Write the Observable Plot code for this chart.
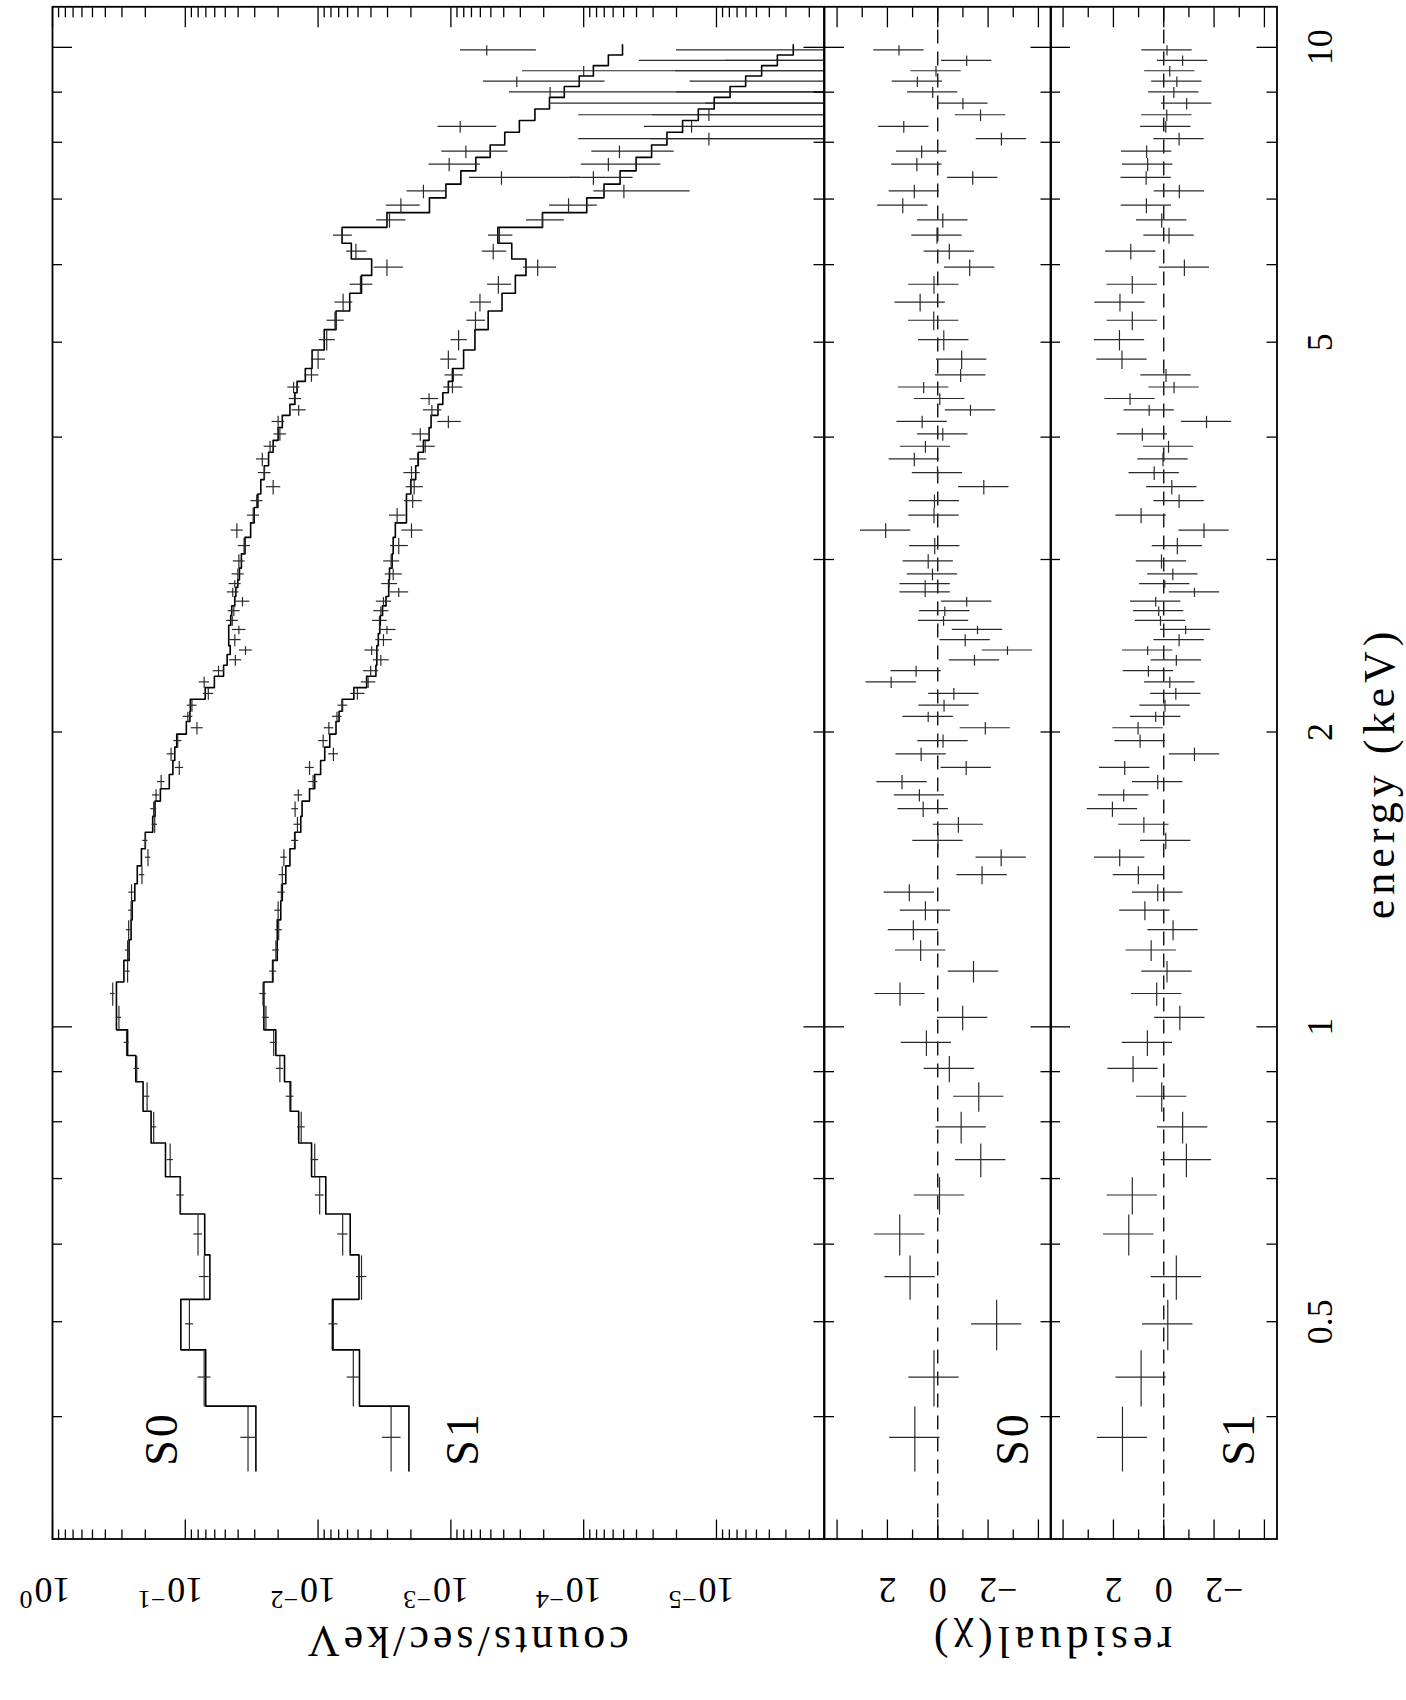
<!DOCTYPE html>
<html><head><meta charset="utf-8">
<script src="https://cdn.jsdelivr.net/npm/d3@7"></script>
<script src="https://cdn.jsdelivr.net/npm/@observablehq/plot@0.6"></script>
<style>
html,body{margin:0;padding:0;background:#fff;}
#page{position:relative;width:1406px;height:1700px;overflow:hidden;background:#fff;}
#rot{position:absolute;left:0;top:0;width:1700px;height:1406px;transform-origin:0 0;transform:translate(0px,1700px) rotate(-90deg);}
#rot > svg{position:absolute;left:0;overflow:visible;font-family:"Liberation Serif","DejaVu Serif",serif !important;}
#rot text, #rot tspan{font-family:"Liberation Serif","DejaVu Serif",serif !important;}
</style></head><body>
<div id="page"><div id="rot"></div></div>
<script>
// Energy bin edges (keV), shared by S0 and S1, listed from high to low energy
const edges = [10.06, 9.82, 9.58, 9.35, 9.12, 8.89, 8.65, 8.42, 8.19, 7.95, 7.72, 7.48, 7.25, 7.02, 6.78, 6.55, 6.31, 6.08, 5.85, 5.61, 5.38, 5.15, 4.91, 4.70, 4.56, 4.44, 4.32, 4.21, 4.09, 3.97, 3.86, 3.74, 3.62, 3.50, 3.39, 3.27, 3.16, 3.04, 2.94, 2.86, 2.81, 2.75, 2.69, 2.63, 2.57, 2.52, 2.45, 2.40, 2.34, 2.28, 2.22, 2.16, 2.10, 2.05, 1.99, 1.93, 1.87, 1.81, 1.75, 1.70, 1.64, 1.58, 1.52, 1.46, 1.40, 1.345, 1.286, 1.227, 1.169, 1.111, 1.052, 0.993, 0.935, 0.879, 0.820, 0.761, 0.703, 0.644, 0.585, 0.527, 0.468, 0.410, 0.352];

// S0 spectrum (counts/sec/keV)
const s0Data = [5.37e-4, -1.2e-4, 1.0e-4, 3.19e-4, 1.79e-4, -1.4e-5, -6.8e-5, 8.51e-4, -7.7e-5, 7.71e-4, 1.03e-3, 4.16e-4, 1.61e-3, 2.38e-3, 2.9e-3, 6.59e-3, 5.19e-3, 3.03e-3, 4.80e-3, 6.48e-3, 7.46e-3, 8.61e-3, 1.0e-2, 1.122e-2, 1.53e-2, 1.49e-2, 1.40e-2, 2.0e-2, 1.94e-2, 2.30e-2, 2.63e-2, 2.54e-2, 2.18e-2, 2.90e-2, 3.08e-2, 4.09e-2, 3.61e-2, 3.95e-2, 4.02e-2, 4.24e-2, 4.39e-2, 3.71e-2, 4.31e-2, 4.43e-2, 3.95e-2, 4.24e-2, 3.52e-2, 4.20e-2, 5.62e-2, 7.21e-2, 6.71e-2, 8.91e-2, 9.57e-2, 8.17e-2, 0.114, 0.128, 0.111, 0.152, 0.166, 0.173, 0.170, 0.200, 0.191, 0.212, 0.254, 0.256, 0.267, 0.272, 0.272, 0.352, 0.316, 0.277, 0.232, 0.194, 0.173, 0.130, 0.109, 0.0802, 0.0721, 0.0931, 0.0721, 0.0337];
const s0Err = [3.1e-4, 1.58e-4, 1.89e-4, 2.5e-4, 1.83e-4, 1.95e-4, 1.77e-4, 4.0e-4, 1.86e-4, 4.0e-4, 4.3e-4, 3.1e-4, 5.3e-4, 6.8e-4, 7.2e-4, 1.07e-3, 9e-4, 7.5e-4, 9.3e-4, 1.0e-3, 1.1e-3, 1.2e-3, 1.2e-3, 1.35e-3, 1.6e-3, 1.6e-3, 1.7e-3, 2.2e-3, 2.1e-3, 2.5e-3, 2.8e-3, 2.8e-3, 2.7e-3, 3.0e-3, 3.2e-3, 4.3e-3, 3.8e-3, 4.0e-3, 4.2e-3, 4.4e-3, 4.4e-3, 4.4e-3, 4.5e-3, 4.5e-3, 4.6e-3, 4.4e-3, 3.9e-3, 4.4e-3, 5.5e-3, 6.4e-3, 6.0e-3, 7.5e-3, 8e-3, 8.5e-3, 8e-3, 9e-3, 8e-3, 1.0e-2, 1.05e-2, 9e-3, 8e-3, 9e-3, 9e-3, 1.0e-2, 1.2e-2, 1.1e-2, 1.1e-2, 1.1e-2, 1.2e-2, 1.4e-2, 1.4e-2, 1.2e-2, 1.1e-2, 9e-3, 9e-3, 7e-3, 7e-3, 6e-3, 6e-3, 6.5e-3, 8e-3, 4.5e-3];
const s0Model = [5.1e-5, 6.52e-5, 8.45e-5, 1.08e-4, 1.40e-4, 1.81e-4, 2.33e-4, 3.05e-4, 3.93e-4, 5.06e-4, 6.49e-4, 8.41e-4, 1.09e-3, 1.45e-3, 3.03e-3, 6.59e-3, 5.62e-3, 3.95e-3, 4.71e-3, 5.78e-3, 7.33e-3, 8.99e-3, 1.11e-2, 1.248e-2, 1.44e-2, 1.50e-2, 1.63e-2, 1.86e-2, 2.0e-2, 2.18e-2, 2.36e-2, 2.54e-2, 2.70e-2, 2.84e-2, 3.03e-2, 3.22e-2, 3.55e-2, 3.78e-2, 3.91e-2, 4.02e-2, 4.16e-2, 4.24e-2, 4.47e-2, 4.55e-2, 4.71e-2, 4.71e-2, 4.59e-2, 4.84e-2, 5.15e-2, 6.04e-2, 7.08e-2, 9.16e-2, 9.23e-2, 9.82e-2, 0.116, 0.120, 0.124, 0.132, 0.154, 0.169, 0.176, 0.200, 0.214, 0.230, 0.240, 0.251, 0.256, 0.265, 0.290, 0.330, 0.330, 0.272, 0.236, 0.208, 0.181, 0.141, 0.109, 0.0714, 0.0653, 0.108, 0.0702, 0.0294];

// S1 spectrum (counts/sec/keV)
const s1Data = [0, -1.2e-5, 0, -4.6e-6, 0, -8e-6, 1.14e-5, 1.54e-5, 1.14e-5, 5.38e-5, 6.52e-5, 8.45e-5, 4.98e-5, 1.30e-4, 2.05e-4, 4.31e-4, 4.80e-4, 2.22e-4, 4.39e-4, 6.04e-4, 6.53e-4, 8.75e-4, 1.045e-3, 9.57e-4, 9.73e-4, 1.46e-3, 1.39e-3, 1.045e-3, 1.70e-3, 1.56e-3, 1.78e-3, 1.98e-3, 1.89e-3, 1.94e-3, 2.54e-3, 1.98e-3, 2.47e-3, 2.82e-3, 2.72e-3, 2.92e-3, 2.47e-3, 3.22e-3, 3.37e-3, 3.45e-3, 3.03e-3, 3.22e-3, 3.95e-3, 3.37e-3, 4.02e-3, 4.20e-3, 5.06e-3, 6.53e-3, 7.21e-3, 8.30e-3, 9.16e-3, 7.67e-3, 1.16e-2, 1.09e-2, 1.41e-2, 1.49e-2, 1.43e-2, 1.49e-2, 1.81e-2, 1.86e-2, 1.89e-2, 2.0e-2, 1.98e-2, 2.08e-2, 2.18e-2, 2.60e-2, 2.47e-2, 2.16e-2, 1.94e-2, 1.63e-2, 1.34e-2, 1.06e-2, 9.73e-3, 6.53e-3, 4.71e-3, 7.67e-3, 5.43e-3, 2.82e-3];
const s1Err = [2.0e-5, 2.05e-5, 2.03e-5, 2.04e-5, 2.0e-5, 2.0e-5, 1.91e-5, 1.95e-5, 2.0e-5, 3.3e-5, 3.9e-5, 4.2e-5, 3.4e-5, 5.1e-5, 6.5e-5, 9e-5, 1.0e-4, 6.2e-5, 9e-5, 1.1e-4, 1.05e-4, 1.23e-4, 1.46e-4, 1.5e-4, 1.6e-4, 2.2e-4, 2.2e-4, 2.1e-4, 2.6e-4, 2.5e-4, 2.6e-4, 2.8e-4, 2.8e-4, 3.0e-4, 3.6e-4, 3.6e-4, 3.8e-4, 3.9e-4, 4.0e-4, 4.0e-4, 3.9e-4, 4.2e-4, 4.4e-4, 4.4e-4, 4.4e-4, 4.6e-4, 5.0e-4, 4.6e-4, 5.2e-4, 5.3e-4, 6.2e-4, 5.5e-4, 6e-4, 6.8e-4, 7.5e-4, 6.5e-4, 9e-4, 8.5e-4, 1.05e-3, 8.5e-4, 9e-4, 9e-4, 1.0e-3, 1.1e-3, 1.2e-3, 1.2e-3, 1.2e-3, 1.2e-3, 1.3e-3, 1.5e-3, 1.4e-3, 1.3e-3, 1.2e-3, 1.1e-3, 9e-4, 7e-4, 7.5e-4, 5.8e-4, 4.2e-4, 6e-4, 6e-4, 4.5e-4];
const s1Model = [2.64e-6, 3.48e-6, 4.57e-6, 6.03e-6, 7.9e-6, 1.04e-5, 1.37e-5, 1.80e-5, 2.36e-5, 3.08e-5, 4.03e-5, 5.32e-5, 7.03e-5, 9.48e-5, 2.04e-4, 4.43e-4, 3.48e-4, 2.72e-4, 3.27e-4, 4.12e-4, 5.24e-4, 6.59e-4, 8.02e-4, 9.73e-4, 1.045e-3, 1.15e-3, 1.25e-3, 1.41e-3, 1.46e-3, 1.61e-3, 1.76e-3, 1.84e-3, 2.0e-3, 2.16e-3, 2.16e-3, 2.62e-3, 2.72e-3, 2.77e-3, 2.90e-3, 2.94e-3, 2.94e-3, 3.08e-3, 3.27e-3, 3.40e-3, 3.43e-3, 3.52e-3, 3.61e-3, 3.61e-3, 3.67e-3, 4.31e-3, 5.38e-3, 6.59e-3, 6.95e-3, 7.33e-3, 8.17e-3, 8.91e-3, 9.57e-3, 1.06e-2, 1.16e-2, 1.32e-2, 1.35e-2, 1.50e-2, 1.63e-2, 1.75e-2, 1.86e-2, 1.91e-2, 2.03e-2, 2.03e-2, 2.20e-2, 2.56e-2, 2.56e-2, 2.08e-2, 1.79e-2, 1.61e-2, 1.40e-2, 1.12e-2, 8.75e-3, 5.73e-3, 4.92e-3, 7.80e-3, 4.88e-3, 2.07e-3];

// Residuals (chi)
const s0Chi = [1.54, -1.15, 0.07, 0.81, 0.2, -1.0, -1.7, 1.35, -2.53, 0.64, 0.83, -1.39, 0.93, 1.39, -0.2, 0.03, -0.46, -1.27, 0.15, 0.7, 0.16, -0.24, -0.95, -0.91, 0.56, -0.08, -1.3, 0.62, -0.2, 0.49, 0.93, 0.01, -1.83, 0.13, 0.15, 2.07, 0.12, 0.38, 0.21, 0.5, 0.5, -1.15, -0.28, -0.23, -1.58, -1.09, -2.77, -1.46, 0.86, 1.85, -0.64, -0.25, 0.38, -1.89, -0.21, 0.66, -1.13, 1.42, 0.73, 0.58, -0.82, -0.01, -2.52, -1.76, 1.13, 0.49, 0.97, 0.68, -1.42, 1.5, -0.99, 0.45, -0.46, -1.63, -0.93, -1.71, -0.07, 1.51, 1.10, -2.34, 0.15, 0.91];
const s1Chi = [-0.13, -0.75, -0.24, -0.52, -0.4, -0.91, -0.12, -0.08, -0.61, 0.68, 0.64, 0.7, -0.62, 0.69, 0.08, -0.21, 1.31, -0.82, 1.25, 1.74, 1.25, 1.76, 1.66, -0.09, -0.41, 1.34, 0.58, -1.7, 0.85, -0.19, 0.03, 0.38, -0.32, -0.61, 0.9, -1.6, -0.54, 0.09, -0.36, -0.04, -1.22, 0.32, 0.2, 0.13, -0.87, -0.61, 0.64, -0.5, 0.61, -0.24, -0.48, -0.05, 0.32, 1.02, 0.94, -1.22, 1.55, 0.24, 1.59, 2.04, 0.79, -0.08, 1.75, 1.01, 0.24, 0.75, -0.37, 0.5, -0.13, 0.28, -0.64, 0.65, 1.22, 0.08, -0.75, -0.9, 1.25, 1.39, -0.5, -0.16, 0.9, 1.64];

// Axes
const energyDomain = [0.3, 11];
const countDomain = [1.55e-6, 1];
const chiDomain = [-4.5, 4.5];
const energyMajor = [1, 10];
const energyMinor = [0.4, 0.5, 0.6, 0.7, 0.8, 0.9, 2, 3, 4, 5, 6, 7, 8, 9];
const energyLabelTicks = [0.5, 1, 2, 5, 10];
const energyLabels = ["0.5", "1", "2", "5", "10"];
const countMajor = [1, 0.1, 0.01, 0.001, 1e-4, 1e-5];
const countLabels = ["10|0", "10|\u22121", "10|\u22122", "10|\u22123", "10|\u22124", "10|\u22125"];
const countMantissas = [2, 3, 4, 5, 6, 7, 8, 9];
const countDecades = [1e-6, 1e-5, 1e-4, 1e-3, 1e-2, 1e-1];
const chiMajor = [-4, -2, 0, 2, 4];
const chiMinor = [-3, -1, 1, 3];
const chiLabelTicks = [-2, 0, 2];
const chiLabels = ["\u22122", "0", "2"];
const specTags = [{t: "S0", e: 0.38, c: 0.148}, {t: "S1", e: 0.38, c: 8.0e-4}];
const residTag = {e: 0.38, chi: -3};

// ---------- drawing (original orientation, then rotated 90° CCW) ----------
const ML = 160.5, MR = 7.3, WID = 1700, FW = WID - ML - MR;
const TMAJ = 20, TMIN = 10;
const FONT = "Liberation Serif";
const DATA_STROKE = "#2a2a2a";
const countMinor = countDecades.flatMap(d => countMantissas.map(m => m * d)).filter(v => v > countDomain[0] && v < 1);

const bins = s0Data.map((_, i) => ({hi: edges[i], lo: edges[i + 1], mid: (edges[i] + edges[i + 1]) / 2}));

function frameTicks(H, yMaj, yMin) {
  const st = {stroke: "#000", strokeWidth: 1.3};
  return [
    Plot.tickX(energyMajor, {x: d => d, insetBottom: H - TMAJ, ...st}),
    Plot.tickX(energyMajor, {x: d => d, insetTop: H - TMAJ, ...st}),
    Plot.tickX(energyMinor, {x: d => d, insetBottom: H - TMIN, ...st}),
    Plot.tickX(energyMinor, {x: d => d, insetTop: H - TMIN, ...st}),
    Plot.tickY(yMaj, {y: d => d, insetRight: FW - TMAJ, ...st}),
    Plot.tickY(yMaj, {y: d => d, insetLeft: FW - TMAJ, ...st}),
    Plot.tickY(yMin, {y: d => d, insetRight: FW - TMIN, ...st}),
    Plot.tickY(yMin, {y: d => d, insetLeft: FW - TMIN, ...st})
  ];
}

function specMarks(data, err, model) {
  const rows = bins.map((b, i) => ({...b, d: data[i], e: err[i], m: model[i]}));
  const pts = rows.flatMap(r => [{x: r.hi, y: r.m}, {x: r.lo, y: r.m}]);
  return [
    Plot.line(pts, {x: "x", y: "y", stroke: "#000", strokeWidth: 1.6, clip: true}),
    Plot.ruleY(rows.filter(r => r.d > 0), {x1: "lo", x2: "hi", y: "d", stroke: DATA_STROKE, strokeWidth: 1.2, clip: true}),
    Plot.ruleX(rows, {x: "mid", y1: r => Math.max(r.d - r.e, 1e-9), y2: r => r.d + r.e, stroke: DATA_STROKE, strokeWidth: 1.2, clip: true})
  ];
}

function residMarks(chi) {
  const rows = bins.map((b, i) => ({...b, c: chi[i]}));
  return [
    Plot.ruleY([0], {stroke: "#000", strokeWidth: 1.3, strokeDasharray: "14,8"}),
    Plot.ruleY(rows, {x1: "lo", x2: "hi", y: "c", stroke: DATA_STROKE, strokeWidth: 1.2, clip: true}),
    Plot.ruleX(rows, {x: "mid", y1: r => r.c - 1, y2: r => r.c + 1, stroke: DATA_STROKE, strokeWidth: 1.2, clip: true})
  ];
}

const baseStyle = "font-family: 'Liberation Serif', serif; overflow: visible; background: transparent; color: #000;";
const T = {fontFamily: FONT};

// Spectrum panel
const spec = Plot.plot({
  width: WID, height: 823.5, marginLeft: ML, marginRight: MR, marginTop: 52, marginBottom: 0,
  style: baseStyle,
  x: {type: "log", domain: energyDomain, axis: null},
  y: {type: "log", domain: countDomain, axis: null},
  marks: [
    ...specMarks(s0Data, s0Err, s0Model),
    ...specMarks(s1Data, s1Err, s1Model),
    ...frameTicks(771.5, countMajor, countMinor),
    Plot.frame({stroke: "#000", strokeWidth: 1.8}),
    Plot.text(countMajor, {y: d => d, text: (d, i) => countLabels[i], frameAnchor: "left", dx: -50.5, dy: 18, rotate: -90, textAnchor: "start", lineAnchor: "middle", fontSize: 36, ...T}),
    Plot.text(["counts/sec/keV"], {text: d => d, frameAnchor: "left", dx: -102.5, dy: 28, rotate: -90, textAnchor: "middle", lineAnchor: "middle", fontSize: 44, ...T}),
    Plot.text(specTags, {x: "e", y: "c", text: "t", fontSize: 46, textAnchor: "middle", lineAnchor: "middle", ...T})
  ]
});

function residPlot(chi, tag, extra, height, marginBottom) {
  return Plot.plot({
    width: WID, height, marginLeft: ML, marginRight: MR, marginTop: 0, marginBottom,
    style: baseStyle,
    x: {type: "log", domain: energyDomain, axis: null},
    y: {domain: chiDomain, axis: null},
    marks: [
      ...residMarks(chi),
      ...frameTicks(226.5, chiMajor, chiMinor),
      Plot.frame({stroke: "#000", strokeWidth: 1.8}),
      Plot.text(chiLabelTicks, {y: d => d, text: (d, i) => chiLabels[i], frameAnchor: "left", dx: -50.5, dy: -9, rotate: -90, textAnchor: "end", lineAnchor: "middle", fontSize: 36, ...T}),
      Plot.text([tag], {x: () => residTag.e, y: () => residTag.chi, text: d => d, fontSize: 46, textAnchor: "middle", lineAnchor: "middle", ...T}),
      ...extra
    ]
  });
}

const r0 = residPlot(s0Chi, "S0", [], 226.5, 0);
const r1 = residPlot(s1Chi, "S1", [
  Plot.text(energyLabelTicks, {x: d => d, text: (d, i) => energyLabels[i], frameAnchor: "bottom", dy: 43.5, textAnchor: "middle", lineAnchor: "middle", fontSize: 36, ...T}),
  Plot.text(["energy (keV)"], {text: d => d, frameAnchor: "bottom", dy: 102.5, textAnchor: "middle", lineAnchor: "middle", fontSize: 44, ...T}),
  Plot.text(["residual(\u03c7)"], {text: d => d, frameAnchor: "top-left", dx: -102.5, rotate: -90, textAnchor: "middle", lineAnchor: "middle", fontSize: 44, ...T})
], 356, 129.5);

const rot = document.getElementById("rot");
[[spec, 0], [r0, 823.5], [r1, 1050]].forEach(([svg, top]) => {
  svg.style.top = top + "px";
  svg.style.position = "absolute";
  svg.style.left = "0px";
  rot.appendChild(svg);
});

// superscripts and letter spacing
const NS = "http://www.w3.org/2000/svg";
rot.querySelectorAll("text").forEach(t => {
  const s = t.textContent;
  if (s.includes("|")) {
    const [base, exp] = s.split("|");
    t.textContent = "";
    const a = document.createElementNS(NS, "tspan");
    a.textContent = base;
    const b = document.createElementNS(NS, "tspan");
    b.textContent = exp;
    b.setAttribute("dy", "-0.5em");
    b.setAttribute("font-size", "26");
    b.setAttribute("dx", "2");
    t.appendChild(a);
    t.appendChild(b);
  }
  if (s === "counts/sec/keV") t.style.letterSpacing = "4px";
  if (s === "energy (keV)" || s === "residual(\u03c7)") t.style.letterSpacing = "5px";
  if (s === "S0" || s === "S1") t.style.letterSpacing = "3px";
});
</script>
</body></html>
